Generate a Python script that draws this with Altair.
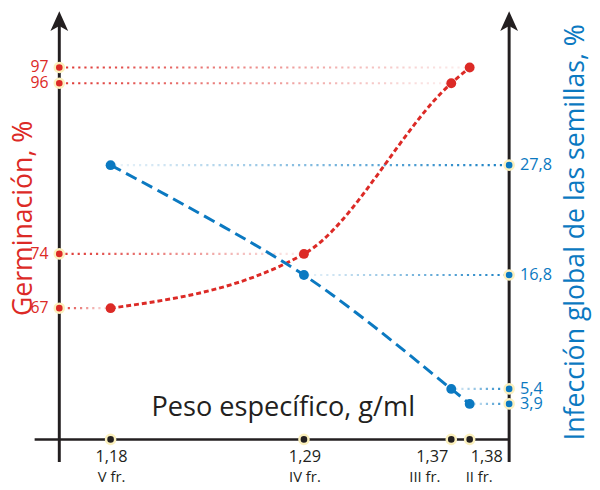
import altair as alt
import pandas as pd

# ---- data ----
peso = [1.18, 1.29, 1.37, 1.38]
peso_txt = ["1,18", "1,29", "1,37", "1,38"]
fraccion = ["V fr.", "IV fr.", "III fr.", "II fr."]
germinacion = [67, 74, 96, 97]
germ_txt = ["67", "74", "96", "97"]
infeccion = [27.8, 16.8, 5.4, 3.9]
inf_txt = ["27,8", "16,8", "5,4", "3,9"]

df = pd.DataFrame({
    "peso": peso, "peso_txt": peso_txt, "fraccion": fraccion,
    "germ": germinacion, "germ_txt": germ_txt,
    "inf": infeccion, "inf_txt": inf_txt,
})
one = pd.DataFrame({"k": [0]})

RED = "#dc2a26"
BLUE = "#0b79c1"
INK = "#231f20"
CREAM = "#fbf0bd"
FONT = "Open Sans"
W, H = 456, 457
XAX = 434  # y of the horizontal axis line (plot px)

xs = alt.Scale(domain=[1.18, 1.29, 1.38], range=[52, 248, 416], nice=False, zero=False, padding=0)
ys_g = alt.Scale(domain=[67, 96, 97], range=[301, 73, 57], nice=False, zero=False, padding=0)
ys_i = alt.Scale(domain=[0, 27.8], range=[437.5, 156], nice=False, zero=False, padding=0)

X = alt.X("peso:Q", scale=xs, axis=None)
XB = alt.X("peso:Q", scale=xs, axis=None, stack=None)
YG = alt.Y("germ:Q", scale=ys_g, axis=None)
YI = alt.Y("inf:Q", scale=ys_i, axis=None)

base = alt.Chart(df)

def grad(rgb, a0, a1):
    return alt.LinearGradient(
        gradient="linear",
        stops=[alt.GradientStop(color=f"rgba({rgb},{a0})", offset=0),
               alt.GradientStop(color=f"rgba({rgb},{a1})", offset=1)],
        x1=0, x2=1, y1=0, y2=0)

# faded dotted guide lines: a thin gradient bar, cut into dots by a white dashed rule
red_fade = base.mark_bar(orient="horizontal", height=2.2,
                         color=grad("220,42,38", 0.95, 0.08)).encode(
    x=XB, x2=alt.value(0), y=YG)
blue_fade = base.mark_bar(orient="horizontal", height=2.2,
                          color=grad("11,121,193", 0.08, 0.95)).encode(
    x=XB, x2=alt.value(W), y=YI)
red_cut = base.mark_rule(color="white", strokeWidth=5, strokeDash=[4, 2.2]).encode(
    x=X, x2=alt.value(0), y=YG)
blue_cut = base.mark_rule(color="white", strokeWidth=5, strokeDash=[4, 2.2]).encode(
    x=X, x2=alt.value(W), y=YI)

left_axis = alt.Chart(one).mark_rule(color=INK, strokeWidth=3).encode(
    x=alt.value(0), y=alt.value(12), y2=alt.value(H))
right_axis = alt.Chart(one).mark_rule(color=INK, strokeWidth=3).encode(
    x=alt.value(W), y=alt.value(12), y2=alt.value(H))
bottom_axis = alt.Chart(one).mark_rule(color=INK, strokeWidth=2.5).encode(
    x=alt.value(-25), x2=alt.value(W), y=alt.value(XAX))

ARROW = "M0,-1L0.9,1L0,0.5L-0.9,1Z"
arrow_l = alt.Chart(one).mark_point(shape=ARROW, filled=True, size=400, color=INK, opacity=1).encode(
    x=alt.value(0), y=alt.value(10))
arrow_r = alt.Chart(one).mark_point(shape=ARROW, filled=True, size=400, color=INK, opacity=1).encode(
    x=alt.value(W), y=alt.value(10))

red_line = base.mark_line(color=RED, strokeWidth=3, strokeDash=[5, 3], interpolate="monotone").encode(
    x=X, y=YG)
blue_line = base.mark_line(color=BLUE, strokeWidth=3, strokeDash=[12, 6], interpolate="catmull-rom").encode(
    x=X, y=YI)

red_pts = base.mark_circle(fill=RED, size=100, opacity=1).encode(x=X, y=YG)
blue_pts = base.mark_circle(fill=BLUE, size=100, opacity=1).encode(x=X, y=YI)

red_ax = base.mark_circle(fill=RED, stroke=CREAM, strokeWidth=2.5, size=85, opacity=1).encode(
    x=alt.value(0), y=YG)
blue_ax = base.mark_circle(fill=BLUE, stroke=CREAM, strokeWidth=2.5, size=85, opacity=1).encode(
    x=alt.value(W), y=YI)
x_ax = base.mark_circle(fill=INK, stroke=CREAM, strokeWidth=2.5, size=85, opacity=1).encode(
    x=X, y=alt.value(XAX))

red_lab = base.mark_text(align="right", baseline="middle", fontSize=16, font=FONT, color=RED).encode(
    x=alt.value(-11), y=YG, text="germ_txt:N")
blue_lab = base.mark_text(align="left", baseline="middle", fontSize=16.5, font=FONT, color=BLUE).encode(
    x=alt.value(W + 11), y=YI, text="inf_txt:N")

def xlab(filt, align, dx1, dx2):
    b = base.transform_filter(filt)
    a = b.mark_text(align=align, baseline="alphabetic", fontSize=16.5, font=FONT, color=INK, dx=dx1).encode(
        x=X, y=alt.value(457), text="peso_txt:N")
    c = b.mark_text(align=align, baseline="alphabetic", fontSize=15, font=FONT, color=INK, dx=dx2).encode(
        x=X, y=alt.value(477), text="fraccion:N")
    return [a, c]

xlabs = (xlab("datum.peso < 1.3", "center", 1, 1)
         + xlab("datum.peso > 1.365 && datum.peso < 1.375", "right", -3, -11)
         + xlab("datum.peso > 1.375", "left", 1, -4))

t_x = alt.Chart(one).mark_text(text="Peso específico, g/ml", fontSize=27.5, font=FONT, color=INK,
                               align="center", baseline="alphabetic").encode(
    x=alt.value(227), y=alt.value(410))
t_l = alt.Chart(one).mark_text(text="Germinación, %", fontSize=27, font=FONT, color=RED,
                               align="center", baseline="alphabetic", angle=270).encode(
    x=alt.value(-28), y=alt.value(210))
t_r = alt.Chart(one).mark_text(text="Infección global de las semillas, %", fontSize=27, font=FONT,
                               color=BLUE, align="center", baseline="alphabetic", angle=270).encode(
    x=alt.value(532), y=alt.value(224))

layers = [red_fade, blue_fade, red_cut, blue_cut,
          left_axis, right_axis, bottom_axis, arrow_l, arrow_r,
          red_line, blue_line, red_pts, blue_pts,
          red_ax, blue_ax, x_ax, red_lab, blue_lab] + xlabs + [t_x, t_l, t_r]

chart = alt.layer(*layers).resolve_scale(y="independent").properties(
    width=W, height=H,
    padding={"left": 52, "top": 0, "right": 84, "bottom": 25},
    autosize=alt.AutoSizeParams(type="none"),
).configure(background="white").configure_view(stroke=None)

chart.save("out.html", embed_options={"renderer": "svg", "actions": False})
